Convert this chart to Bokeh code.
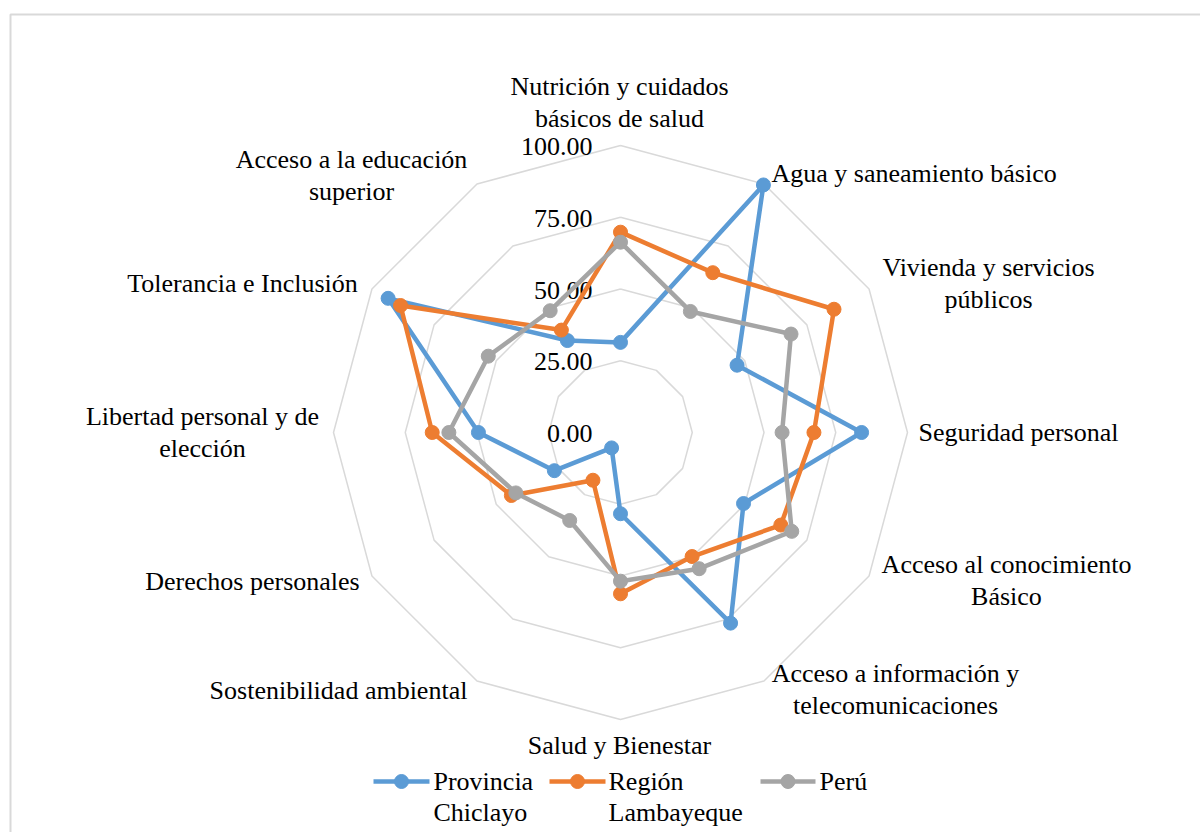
import math
from bokeh.plotting import figure
from bokeh.models import Range1d
from bokeh.core.properties import value
from bokeh.embed import file_html
from bokeh.resources import INLINE

# ---------------- data ----------------
categories = [
    "Nutrición y cuidados\nbásicos de salud",
    "Agua y saneamiento básico",
    "Vivienda y servicios\npúblicos",
    "Seguridad personal",
    "Acceso al conocimiento\nBásico",
    "Acceso a información y\ntelecomunicaciones",
    "Salud y Bienestar",
    "Sostenibilidad ambiental",
    "Derechos personales",
    "Libertad personal y de\nelección",
    "Tolerancia e Inclusión",
    "Acceso a la educación\nsuperior",
]
provincia_chiclayo = [31.4, 99.6, 46.9, 84.0, 49.5, 76.7, 28.3, 6.2, 26.6, 49.5, 93.5, 37.0]
region_lambayeque = [69.8, 64.3, 85.9, 67.4, 64.5, 49.9, 56.2, 19.2, 43.9, 65.6, 88.5, 41.2]
peru = [66.3, 48.7, 68.6, 56.3, 68.9, 54.8, 51.8, 35.4, 42.1, 59.8, 53.2, 49.0]
series_names = ["Provincia\nChiclayo", "Región\nLambayeque", "Perú"]
tick_values = [0, 25, 50, 75, 100]
tick_labels = ["0.00", "25.00", "50.00", "75.00", "100.00"]

# ---------------- layout ----------------
W, H = 1200, 832
CX, CY = 620.0, 432.0      # picture px of the chart centre
S = 2.87                   # px per value unit
FONT = value("Liberation Serif")
FS = "26px"
LH = 1.08
colors = ["#5B9BD5", "#ED7D31", "#A5A5A5"]
grid_color = "#D9D9D9"


def px(xp, yp):
    """picture pixel -> data coordinates"""
    return (xp - CX) / S, (CY - yp) / S


n = len(categories)
angles = [2 * math.pi * i / n for i in range(n)]


def polar(vals):
    xs = [v * math.sin(a) for v, a in zip(vals, angles)]
    ys = [v * math.cos(a) for v, a in zip(vals, angles)]
    return xs, ys


p = figure(width=W, height=H, output_backend="svg", toolbar_location=None,
           x_range=Range1d(-CX / S, (W - CX) / S),
           y_range=Range1d((CY - H) / S, CY / S),
           min_border=0, outline_line_color=None, background_fill_color="white",
           border_fill_color="white")
p.axis.visible = False
p.grid.visible = False

# outer frame (partially visible)
fx0, fy0 = px(10, 14)
fx1, fy1 = px(1300, 900)
p.line([fx0, fx0, fx1], [fy1, fy0, fy0], line_color=grid_color, line_width=2)

# rings
for t in tick_values[1:]:
    xs, ys = polar([t] * n)
    p.line(xs + [xs[0]], ys + [ys[0]], line_color=grid_color, line_width=1.5)

# tick labels
for t, lab in zip(tick_values, tick_labels):
    p.text([-28 / S], [t - 1 / S], text=[lab], text_font=FONT, text_font_size=FS,
           text_align="right", text_baseline="middle", text_color="black")

# series
for vals, col in zip([provincia_chiclayo, region_lambayeque, peru], colors):
    xs, ys = polar(vals)
    p.line(xs + [xs[0]], ys + [ys[0]], line_color=col, line_width=4.5, line_join="round")
    p.scatter(xs, ys, size=14, fill_color=col, line_color=col, marker="circle")

# category labels (picture px anchors)
label_pos = [
    (619, 102, "center"), (771, 173, "left"), (988, 283, "center"),
    (918, 432, "left"), (1006, 580, "center"), (895, 689, "center"),
    (619, 745, "center"), (338, 690, "center"), (252, 581, "center"),
    (202, 432, "center"), (242, 283, "center"), (351, 175, "center"),
]
for lab, (xp, yp, al) in zip(categories, label_pos):
    x, y = px(xp, yp)
    p.text([x], [y], text=[lab], text_font=FONT, text_font_size=FS, text_align=al,
           text_baseline="middle", text_color="black", text_line_height=LH)

# legend
leg = [(373, 429, 433), (549, 605, 608), (760, 815, 819)]
ly = 781
for (a, b, tx), col, name in zip(leg, colors, series_names):
    xa, yy = px(a, ly)
    xb, _ = px(b, ly)
    p.line([xa, xb], [yy, yy], line_color=col, line_width=4.5)
    p.scatter([(xa + xb) / 2], [yy], size=14, fill_color=col, line_color=col)
    xt, yt = px(tx, ly - 15)
    p.text([xt], [yt], text=[name], text_font=FONT, text_font_size=FS, text_align="left",
           text_baseline="top", text_color="black", text_line_height=LH)

open("out.html", "w").write(file_html(p, INLINE))
